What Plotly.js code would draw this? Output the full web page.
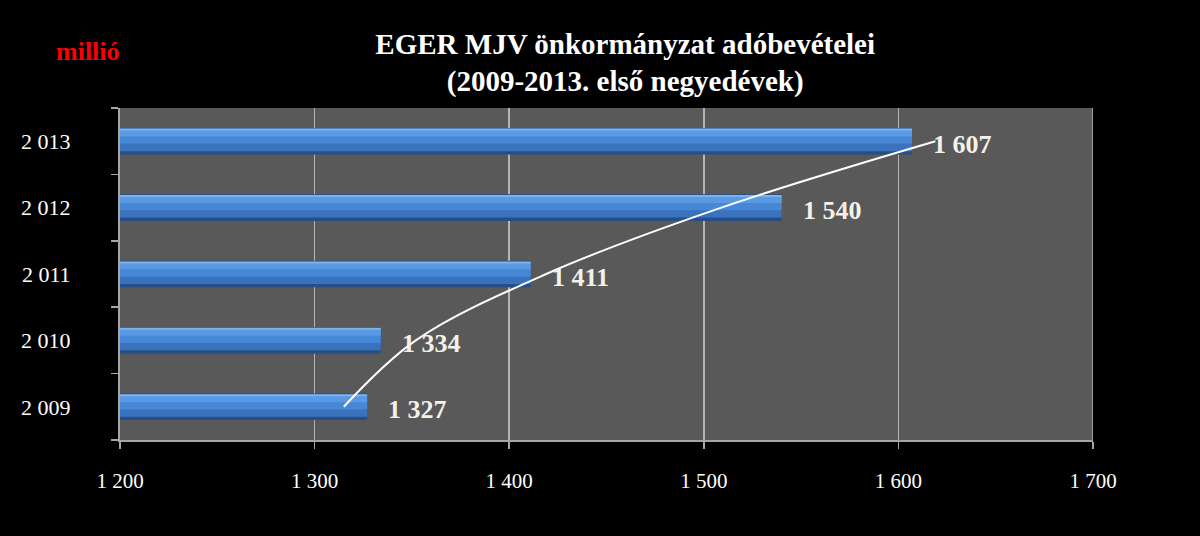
<!DOCTYPE html>
<html>
<head>
<meta charset="utf-8">
<script src="https://cdn.plot.ly/plotly-3.0.1.min.js"></script>
<style>
  html, body { margin: 0; padding: 0; background: #000; }
  #chart { width: 1200px; height: 536px; }
</style>
</head>
<body>
<div id="chart"></div>
<script>
// years on the category axis (written with a space as thousands separator)
const years = ['2 009', '2 010', '2 011', '2 012', '2 013'];
// tax revenue, million HUF
const revenue = [1327, 1334, 1411, 1540, 1607];
// trend curve, one point per year
const trend = [1315, 1352, 1419, 1509, 1619];
const xTicks = [1200, 1300, 1400, 1500, 1600, 1700];

const serif = '"Liberation Serif", "DejaVu Serif", serif';

const barBase = {
  type: 'bar',
  orientation: 'h',
  y: years,
  x: revenue.map(v => v - 1200),
  base: 1200,
  hoverinfo: 'skip',
  showlegend: false
};

// fake the bevelled gradient by stacking a few bands on top of each other
const bands = [
  { width: 0.4,  offset: -0.2,  color: '#264f8a' },
  { width: 0.33, offset: -0.15, color: '#3a73bd' },
  { width: 0.22, offset: -0.04, color: '#4687d6' },
  { width: 0.1,  offset: 0.07,  color: '#5a9ae4' },
  { width: 0.03, offset: 0.16,  color: '#7cb2ee' }
];
const data = bands.map(b => Object.assign({}, barBase, {
  width: b.width, offset: b.offset,
  marker: { color: b.color, line: { width: 0 } }
}));

data.push({
  type: 'scatter',
  mode: 'lines',
  y: years,
  x: trend,
  line: { color: '#ffffff', width: 2, shape: 'spline', smoothing: 1 },
  hoverinfo: 'skip',
  showlegend: false
});

const annotations = revenue.map((v, i) => ({
  x: v, y: years[i], xref: 'x', yref: 'y',
  text: '<b>' + v.toLocaleString('en-US').replace(',', ' ') + '</b>',
  showarrow: false, xanchor: 'left', xshift: 19, yshift: -3,
  font: { family: serif, size: 26, color: '#f4f1e8' }
}));

annotations.push({
  x: -0.068, y: 1.17, xref: 'paper', yref: 'paper',
  xanchor: 'left', yanchor: 'middle',
  text: '<b>millió</b>', showarrow: false,
  font: { family: serif, size: 26, color: '#ff0000' }
});

const layout = {
  width: 1200,
  height: 536,
  paper_bgcolor: '#000000',
  plot_bgcolor: '#595959',
  barmode: 'overlay',
  separators: '. ',
  margin: { l: 120, r: 107, t: 108, b: 96 },
  title: {
    text: '<b>EGER MJV önkormányzat adóbevételei<br>(2009-2013. első negyedévek)</b>',
    x: 0.521, xanchor: 'center',
    y: 0.9, yanchor: 'middle',
    font: { family: serif, size: 29, color: '#ffffff' }
  },
  xaxis: {
    range: [1200, 1700],
    tickvals: xTicks,
    tickformat: ',d',
    showgrid: true,
    gridcolor: '#b4b4b4',
    gridwidth: 1.5,
    zeroline: false,
    showline: true,
    linecolor: '#a6a6a6',
    linewidth: 2,
    ticks: 'outside',
    ticklen: 7,
    tickwidth: 1.5,
    tickcolor: '#a6a6a6',
    ticklabelstandoff: 14,
    tickfont: { family: serif, size: 21, color: '#ffffff' },
    fixedrange: true
  },
  yaxis: {
    type: 'category',
    categoryarray: years,
    tickson: 'boundaries',
    showgrid: false,
    showline: true,
    linecolor: '#a6a6a6',
    linewidth: 2,
    ticks: 'outside',
    ticklen: 7,
    tickwidth: 1.5,
    tickcolor: '#a6a6a6',
    ticklabelstandoff: 43,
    tickfont: { family: serif, size: 22, color: '#ffffff' },
    fixedrange: true
  },
  annotations: annotations,
  shapes: [{
    type: 'line', xref: 'x', yref: 'paper',
    x0: 1700, x1: 1700, y0: 0, y1: 1,
    line: { color: '#b4b4b4', width: 1.5 }
  }]
};

Plotly.newPlot('chart', data, layout, { staticPlot: true });
</script>
</body>
</html>
